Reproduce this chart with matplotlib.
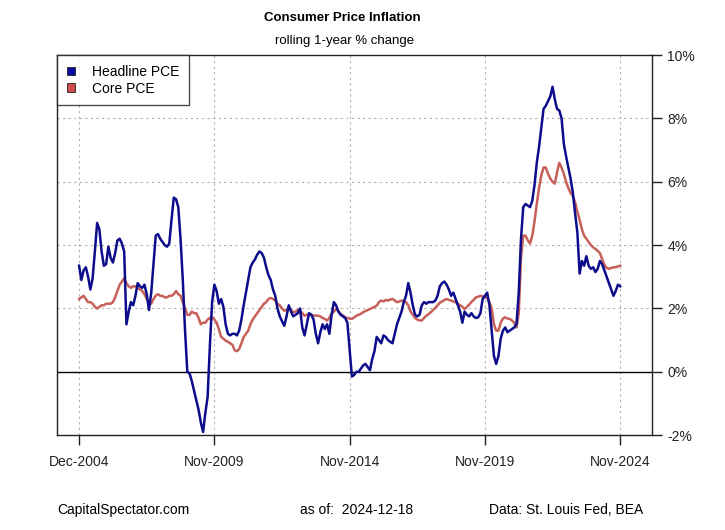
import numpy as np
import matplotlib
matplotlib.use("Agg")
import matplotlib.pyplot as plt
from matplotlib.patches import Patch

plt.rcParams['font.family'] = ['Liberation Sans', 'DejaVu Sans']

# monthly readings, Dec 2004 .. Nov 2024 (rolling 1-year % change)
headline = [
    3.35, 2.9, 3.2, 3.3, 3.0, 2.6, 2.95, 3.8, 4.7, 4.5, 3.8, 3.35,
    3.4, 3.95, 3.6, 3.45, 3.75, 4.15, 4.2, 4.05, 3.8, 1.5, 1.9, 2.2,
    2.1, 2.4, 2.8, 2.7, 2.65, 2.75, 2.45, 1.95, 2.5, 3.4, 4.3, 4.35,
    4.2, 4.1, 4.0, 3.95, 4.05, 4.8, 5.5, 5.45, 5.2, 4.2, 2.9, 1.3,
    0.0, -0.05, -0.3, -0.6, -0.9, -1.2, -1.6, -1.9, -1.3, -0.8, 0.8, 2.2,
    2.75, 2.55, 2.15, 2.3, 2.05, 1.5, 1.2, 1.15, 1.2, 1.2, 1.15, 1.3,
    1.65, 2.1, 2.5, 2.9, 3.3, 3.45, 3.55, 3.7, 3.8, 3.75, 3.6, 3.3,
    3.05, 2.9, 2.6, 2.4, 2.0, 1.75, 1.6, 1.45, 1.75, 2.1, 1.9, 1.75,
    1.8, 1.85, 2.0, 1.4, 1.15, 1.5, 1.85, 1.8, 1.65, 1.2, 0.9, 1.25,
    1.5, 1.35, 1.5, 1.2, 1.8, 2.2, 2.1, 1.9, 1.8, 1.75, 1.7, 1.55,
    0.7, -0.15, -0.1, 0.0, 0.0, 0.1, 0.2, 0.25, 0.15, 0.05, 0.4, 0.65,
    1.1, 1.0, 0.9, 1.15, 1.1, 1.0, 0.95, 0.9, 1.2, 1.5, 1.7, 1.9,
    2.2, 2.4, 2.8, 2.5, 2.1, 1.8, 1.75, 1.8, 2.1, 2.2, 2.15, 2.2,
    2.2, 2.2, 2.25, 2.4, 2.7, 2.8, 2.85, 2.75, 2.6, 2.4, 2.5, 2.3,
    2.1, 1.9, 1.55, 1.9, 1.8, 1.75, 1.85, 1.75, 1.7, 1.72, 1.85, 2.3,
    2.4, 2.5, 2.1, 1.3, 0.5, 0.25, 0.5, 1.05, 1.3, 1.4, 1.25, 1.3,
    1.35, 1.4, 1.5, 2.5, 4.2, 5.2, 5.3, 5.25, 5.2, 5.4, 5.9, 6.6,
    7.1, 7.7, 8.3, 8.4, 8.55, 8.7, 9.0, 8.6, 8.3, 8.25, 8.0, 7.2,
    6.8, 6.45, 6.1, 5.65, 5.0, 4.4, 3.1, 3.5, 3.35, 3.65, 3.35, 3.25,
    3.3, 3.15, 3.25, 3.5, 3.4, 3.2, 3.0, 2.8, 2.6, 2.4, 2.55, 2.75,
    2.7,
]

core = [
    2.3, 2.35, 2.4, 2.3, 2.2, 2.2, 2.15, 2.05, 2.0, 2.05, 2.1, 2.1,
    2.15, 2.15, 2.15, 2.2, 2.35, 2.55, 2.75, 2.85, 2.95, 2.8, 2.7, 2.65,
    2.7, 2.7, 2.65, 2.6, 2.55, 2.45, 2.3, 2.2, 2.15, 2.3, 2.4, 2.45,
    2.4, 2.4, 2.35, 2.35, 2.4, 2.4, 2.45, 2.55, 2.45, 2.4, 2.2, 2.0,
    1.8, 1.8, 1.9, 1.85, 1.85, 1.7, 1.5, 1.55, 1.55, 1.65, 1.7, 1.72,
    1.65, 1.55, 1.35, 1.1, 1.05, 0.98, 0.95, 0.9, 0.85, 0.68, 0.65, 0.72,
    0.9, 1.1, 1.2, 1.3, 1.5, 1.65, 1.75, 1.85, 1.95, 2.05, 2.15, 2.2,
    2.3, 2.33, 2.3, 2.25, 2.15, 2.1, 2.0, 1.93, 1.95, 2.0, 1.95, 1.88,
    1.9, 1.95, 1.93, 1.85, 1.77, 1.8, 1.83, 1.8, 1.77, 1.78, 1.77, 1.75,
    1.7, 1.67, 1.62, 1.7, 1.83, 1.9, 1.98, 1.92, 1.83, 1.78, 1.72, 1.7,
    1.68, 1.67, 1.72, 1.77, 1.8, 1.83, 1.88, 1.92, 1.95, 1.98, 2.02, 2.05,
    2.09, 2.2, 2.25, 2.22, 2.27, 2.25, 2.28, 2.3, 2.25, 2.2, 2.22, 2.25,
    2.22, 2.2, 2.1, 1.9, 1.8, 1.7, 1.65, 1.62, 1.62, 1.7, 1.77, 1.82,
    1.88, 1.95, 2.02, 2.1, 2.18, 2.22, 2.27, 2.3, 2.27, 2.25, 2.22, 2.2,
    2.15, 2.1, 2.05, 1.98, 2.05, 2.12, 2.2, 2.27, 2.35, 2.37, 2.4, 2.38,
    2.35, 2.33, 2.2, 2.0, 1.5, 1.3, 1.3, 1.55, 1.68, 1.72, 1.68, 1.67,
    1.62, 1.55, 1.4, 1.85, 3.6, 4.3, 4.3, 4.15, 4.05, 4.3, 4.75, 5.3,
    5.8, 6.2, 6.45, 6.45, 6.25, 6.1, 6.0, 5.94, 6.3, 6.6, 6.45, 6.25,
    6.0, 5.8, 5.65, 5.55, 5.35, 5.05, 4.8, 4.5, 4.3, 4.2, 4.1, 4.0,
    3.93, 3.88, 3.82, 3.75, 3.55, 3.38, 3.28, 3.25, 3.28, 3.3, 3.3, 3.33,
    3.35,
]

tick_labels = ["Dec-2004", "Nov-2009", "Nov-2014", "Nov-2019", "Nov-2024"]
y_ticks = [-2, 0, 2, 4, 6, 8, 10]

navy = "#0c0c8c"
red = "#c8605a"

x = np.arange(len(headline))
tick_pos = [0, 60, 120, 180, 240]

fig = plt.figure(figsize=(7.25, 5.3), dpi=100)
ax = fig.add_axes([0.0786, 0.179, 0.8207, 0.717])

for t in tick_pos:
    ax.axvline(t, color="#b0b0b0", lw=0.8, ls=(0, (2, 3)), zorder=0)
for v in [2, 4, 6, 8]:
    ax.axhline(v, color="#b0b0b0", lw=0.8, ls=(0, (2, 3)), zorder=0)
ax.axhline(0, color="black", lw=1.0, zorder=1)

ax.plot(x, core, color=red, lw=1.8, zorder=2)
ax.plot(x, headline, color=navy, lw=1.8, zorder=3)

ax.set_xlim(-9.8, 254.1)
ax.set_ylim(-2, 10)

ax.yaxis.tick_right()
ax.set_yticks(y_ticks)
ax.set_yticklabels([f"{v}%" for v in y_ticks])
ax.set_xticks(tick_pos)
ax.set_xticklabels(tick_labels)
ax.tick_params(axis="both", direction="out", length=7, width=1, labelsize=10,
               colors="#222222")
ax.tick_params(axis="x", pad=7)
ax.tick_params(axis="y", pad=4)
for s in ax.spines.values():
    s.set_linewidth(1.0)
    s.set_color("#222222")

handles = [Patch(facecolor="#0a0aa0", edgecolor="#222222", lw=0.6),
           Patch(facecolor="#d04848", edgecolor="#222222", lw=0.6)]
leg = ax.legend(handles, ["Headline PCE", "Core PCE"], loc="upper left",
                fontsize=10, frameon=True, fancybox=False, borderpad=0.7,
                handlelength=0.6, handleheight=0.6, handletextpad=1.2,
                labelspacing=0.2, borderaxespad=0)
leg.get_frame().set_edgecolor("#222222")
leg.get_frame().set_linewidth(1.0)

fig.text(0.472, 0.966, "Consumer Price Inflation", ha="center", va="center",
         fontsize=9.5, fontweight="bold")
fig.text(0.475, 0.923, "rolling 1-year % change", ha="center", va="center",
         fontsize=9.5)

fig.text(57 / 725, 1 - 510 / 530, "CapitalSpectator.com", ha="left",
         va="center", fontsize=10)
fig.text(300 / 725, 1 - 510 / 530, "as of:  2024-12-18", ha="left",
         va="center", fontsize=10)
fig.text(643 / 725, 1 - 510 / 530, "Data: St. Louis Fed, BEA", ha="right",
         va="center", fontsize=10)

fig.savefig("out.png", dpi=100)
